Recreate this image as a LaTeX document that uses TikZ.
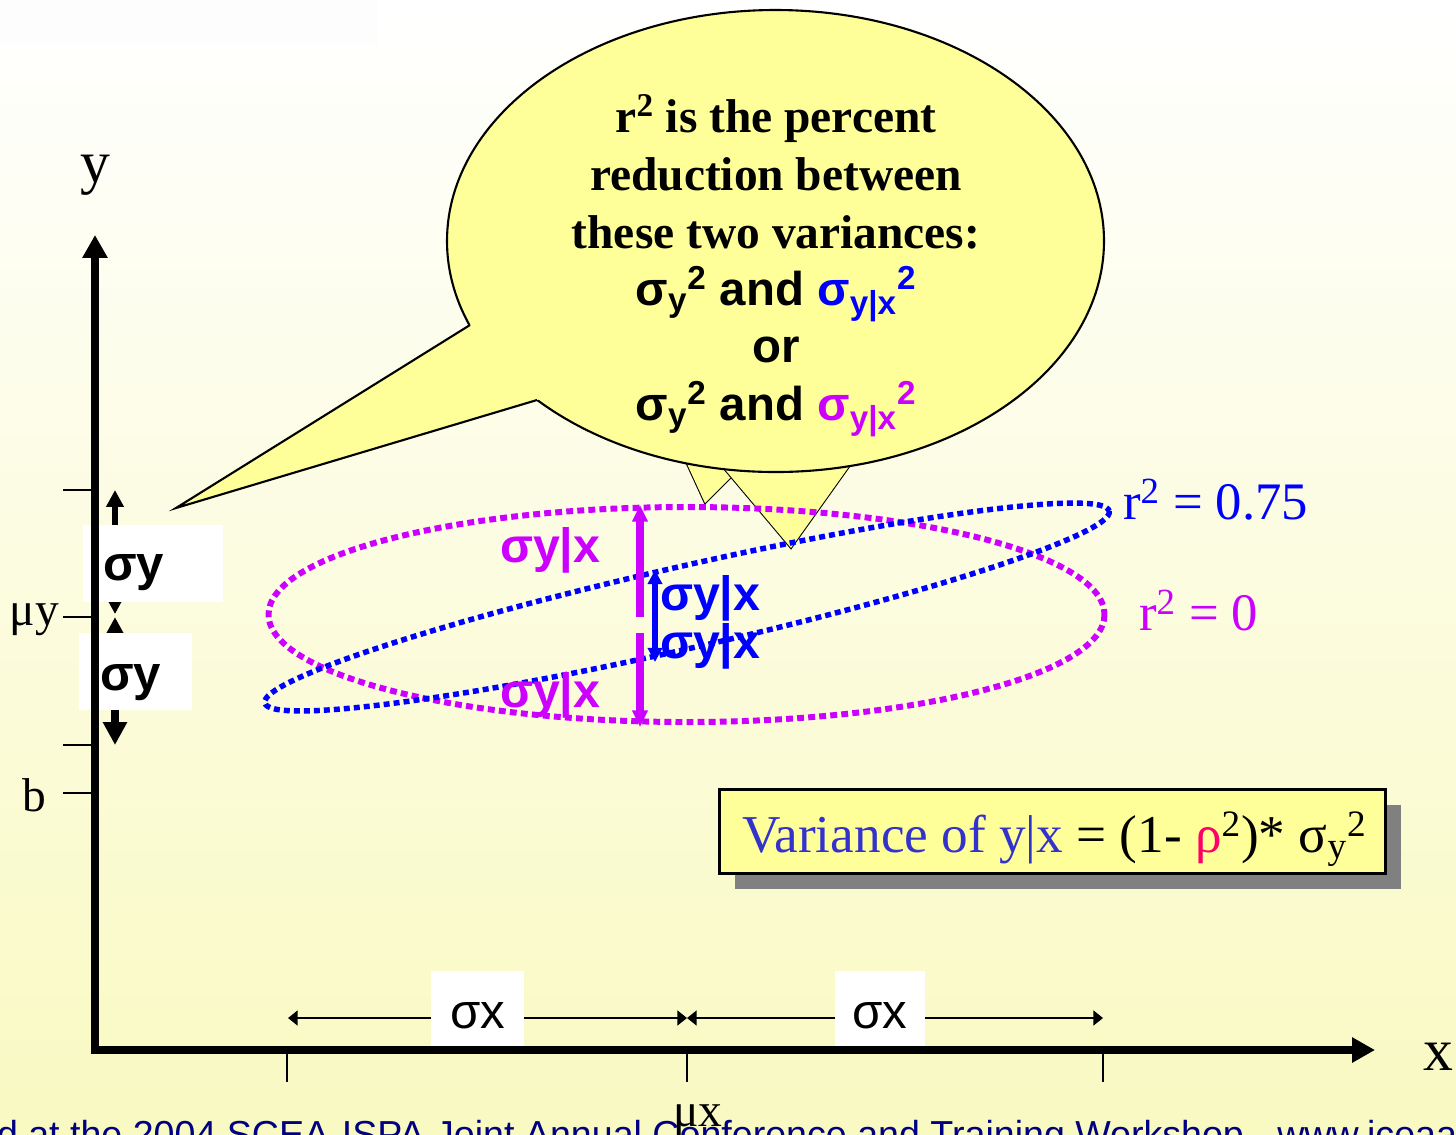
\documentclass[tikz,border=0pt]{standalone}
\usepackage{fontspec}
\setmainfont{Liberation Serif}
\setsansfont{Liberation Sans}
\usetikzlibrary{arrows.meta}
\definecolor{bgtop}{RGB}{255,255,255}
\definecolor{bgmid}{RGB}{255,255,236}
\definecolor{bgbot}{RGB}{249,249,194}
\definecolor{calloutfill}{RGB}{255,255,153}
\definecolor{mag}{RGB}{204,0,255}
\definecolor{pblue}{RGB}{0,0,255}
\definecolor{fblue}{RGB}{51,51,204}
\definecolor{fred}{RGB}{255,0,102}
\definecolor{navyc}{RGB}{0,0,128}
\definecolor{shadowgray}{RGB}{128,128,128}
\definecolor{faint}{RGB}{253,253,253}
\begin{document}
\begin{tikzpicture}[x=0.02cm,y=-0.02cm,
  txt/.style={inner sep=0pt,outer sep=0pt},
  calloutserif/.style={txt,anchor=base,font=\bfseries\fontsize{27}{32}\selectfont},
  calloutsans/.style={txt,anchor=base,font=\sffamily\bfseries\fontsize{27}{32}\selectfont},
  sigmalabel/.style={txt,anchor=base west,font=\sffamily\bfseries\fontsize{27.5}{32}\selectfont},
  axislabel/.style={txt,anchor=base,font=\fontsize{34}{38}\selectfont},
  ticklabel/.style={txt,anchor=base west,font=\fontsize{27}{32}\selectfont},
  rlabel/.style={txt,anchor=base west,font=\fontsize{30}{34}\selectfont},
  sxlabel/.style={txt,anchor=base,font=\sffamily\fontsize{28}{32}\selectfont},
  tickline/.style={line width=1.1pt},
  axisline/.style={line width=4.25pt,{Triangle[length=13pt,width=13.6pt]}-{Triangle[length=13pt,width=13.6pt]}},
  magdot/.style={draw=mag,line width=3.4pt,dash pattern=on 3.9pt off 2.4pt},
  bluedot/.style={draw=pblue,line width=3.1pt,dash pattern=on 3.4pt off 2.3pt},
  magarrow/.style={draw=mag,line width=4pt,-{Triangle[length=9.5pt,width=8.5pt]}},
  bluearrow/.style={draw=pblue,line width=3.6pt,{Triangle[length=8pt,width=8pt]}-{Triangle[length=8pt,width=8pt]}},
  dimarrow/.style={line width=1.1pt,{Triangle[length=5.5pt,width=8.5pt]}-{Triangle[length=5.5pt,width=8.5pt]}},
  whitebox/.style={fill=white},
  calloutshape/.style={fill=calloutfill,draw=black,line width=1.2pt,line join=miter}
]
\useasboundingbox (0,0) rectangle (1456,1134);
% background
\shade[top color=bgtop,middle color=bgmid,bottom color=bgbot] (0,0) rectangle (1456,1134);
\fill[faint] (0,0) rectangle (378,45);

% ---- callout ----
\draw[calloutshape] (683.4,456) -- (705,503) -- (741,467);
\fill[calloutfill] (683.4,456) -- (705,503) -- (741,467) -- cycle;
\draw[calloutshape] (722,466) -- (791,548) -- (856.5,456);
\fill[calloutfill] (722,466) -- (791,548) -- (856.5,456) -- cycle;
\draw[calloutshape] (775.5,241) ellipse [x radius=328.5, y radius=231];
\fill[calloutfill] (484.7,315.9) -- (176,508) -- (555,394.6) -- cycle;
\draw[line width=1.2pt,line join=miter] (470,325) -- (176,508) -- (537,400);

\node[calloutserif] (c1) at (776,132) {r\textsuperscript{2} is the percent};
\node[calloutserif] (c2) at (776,190) {reduction between};
\node[calloutserif] (c3) at (776,248) {these two variances:};
\node[calloutsans] (c4) at (776,305) {σ\textsubscript{y}\textsuperscript{2} and {\color{pblue}σ\textsubscript{y|x}\textsuperscript{2}}};
\node[calloutsans] (c5) at (776,362) {or};
\node[calloutsans] (c6) at (776,420) {σ\textsubscript{y}\textsuperscript{2} and {\color{mag}σ\textsubscript{y|x}\textsuperscript{2}}};

% ---- dotted ellipses ----
\draw[magdot] (686.5,614.5) ellipse [x radius=418, y radius=107.5];
\draw[bluedot,rotate around={12.8:(687,607)}] (687,607) ellipse [x radius=433, y radius=41];

% ---- conditional sigma arrows ----
\coordinate (mu1) at (640,617);
\coordinate (mt) at (640,505);
\coordinate (mu2) at (640,633);
\coordinate (mb) at (640,727);
\draw[magarrow] (mu1) -- (mt);
\draw[magarrow] (mu2) -- (mb);
\coordinate (bt) at (655,570);
\coordinate (bb) at (655,662);
\draw[bluearrow] (bt) -- (bb);

\node[sigmalabel,mag] (ms1) at (500,562) {σy|x};
\node[sigmalabel,mag] (ms2) at (500,707) {σy|x};
\node[sigmalabel,pblue] (bs1) at (660,610) {σy|x};
\node[sigmalabel,pblue] (bs2) at (660,658) {σy|x};

% ---- left sigma y arrows ----
\coordinate (ya1) at (115,490);
\coordinate (ya2) at (115,614);
\coordinate (ya3) at (115,617);
\coordinate (ya4) at (115,745);
\draw[line width=3.4pt,{Triangle[length=9.6pt,width=9.6pt]}-{Triangle[length=9.6pt,width=9.6pt]}] (ya1) -- (ya2);
\draw[line width=4.5pt,{Triangle[length=13pt,width=13pt]}-{Triangle[length=13pt,width=13pt]}] (ya3) -- (ya4);
\fill[whitebox] (83,525) rectangle (223,602);
\fill[whitebox] (79,633) rectangle (192,710);
\node[sigmalabel,font=\sffamily\bfseries\fontsize{28}{32}\selectfont] (sy1) at (103,580) {σy};
\node[sigmalabel,font=\sffamily\bfseries\fontsize{28}{32}\selectfont] (sy2) at (100,690) {σy};

% ---- sigma x dimension ----
\coordinate (dl) at (288,1018);
\coordinate (dm) at (687,1018);
\coordinate (dr) at (1103,1018);
\draw[dimarrow] (dl) -- (dm);
\draw[dimarrow] (dm) -- (dr);
\fill[whitebox] (431,971) rectangle (524,1049);
\fill[whitebox] (835,971) rectangle (925,1049);
\node[sxlabel] (sx1) at (478,1028) {σx};
\node[sxlabel] (sx2) at (880,1028) {σx};

% ---- axes ----
\coordinate (O) at (95,1050);
\coordinate (ytop) at (95,235);
\coordinate (xend) at (1375,1050);
\draw[axisline] (ytop) -- (O) -- (xend);
\draw[tickline] (63,490) -- (95,490);
\draw[tickline] (63,617) -- (95,617);
\draw[tickline] (63,745) -- (95,745);
\draw[tickline] (63,793) -- (95,793);
\draw[tickline] (287,1053) -- (287,1082);
\draw[tickline] (687,1053) -- (687,1082);
\draw[tickline] (1103,1053) -- (1103,1082);
\node[axislabel] (ylab) at (95,182) {y};
\node[axislabel] (xlab) at (1438,1070) {x};
\node[ticklabel] (muy) at (10,625) {μy};
\node[ticklabel] (blab) at (22,811) {b};
\node[ticklabel] (mux) at (673,1126) {μx};

% ---- formula box ----
\fill[shadowgray] (735,805) rectangle (1401,889);
\draw[fill=calloutfill,line width=1.7pt] (719,789) rectangle (1385,873);
\node[txt,anchor=base west,font=\fontsize{30.3}{35}\selectfont] (formula) at (742,852)
  {{\color{fblue}Variance of y|x} = (1- {\color{fred}ρ}\textsuperscript{2})* σ\textsubscript{y}\textsuperscript{2}};

% ---- r^2 labels ----
\node[rlabel,pblue] (r75) at (1123,519) {r\textsuperscript{2} = 0.75};
\node[rlabel,mag] (r0) at (1139,630) {r\textsuperscript{2} = 0};

% ---- footer ----
\node[txt,anchor=base west,navyc,font=\sffamily\fontsize{21.4}{25}\selectfont] (footer) at (-3,1147)
  {d at the 2004 SCEA-ISPA Joint Annual Conference and Training Workshop - www.iceaa};
\end{tikzpicture}
\end{document}
